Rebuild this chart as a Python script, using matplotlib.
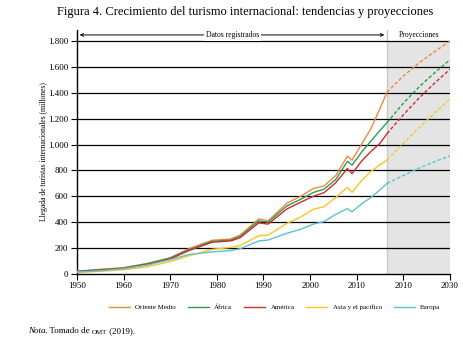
import numpy as np
import matplotlib.pyplot as plt

plt.rcParams['font.family'] = ['Liberation Serif', 'DejaVu Serif']

# posiciones en el eje (años); el tramo de proyección va comprimido al final
anios = [1950, 1955, 1960, 1965, 1970, 1974, 1979, 1983, 1985, 1989, 1991,
         1995, 1998, 2000.7, 2003, 2005.5, 2008, 2009, 2011, 2013, 2015, 2016.5]
anios_proy = [2016.5, 2020, 2023.5, 2027, 2030]

series = ['Oriente Medio', 'África', 'América', 'Asia y el pacífico', 'Europa']
colores = ['#EE8A3C', '#2E9A5C', '#D22B2B', '#F9C623', '#5BC3CE']

oriente = [22, 35, 48, 80, 125, 195, 260, 270, 300, 425, 410,
           546, 600, 660, 680, 760, 910, 880, 1000, 1120, 1280, 1405]
africa = [20, 33, 46, 78, 122, 188, 252, 262, 290, 410, 400,
          525, 577, 630, 655, 730, 870, 840, 940, 1025, 1110, 1170]
america = [18, 30, 42, 72, 115, 180, 245, 255, 280, 395, 385,
           502, 555, 600, 628, 705, 815, 775, 870, 945, 1010, 1085]
asia = [12, 20, 32, 55, 95, 140, 190, 205, 220, 295, 300,
        390, 440, 500, 520, 590, 670, 630, 720, 790, 845, 880]
europa = [15, 25, 40, 68, 110, 150, 170, 180, 195, 255, 262,
          314, 345, 385, 405, 460, 505, 480, 540, 590, 650, 700]

oriente_p = [1405, 1530, 1635, 1725, 1800]
africa_p = [1170, 1320, 1450, 1565, 1655]
america_p = [1085, 1230, 1365, 1485, 1582]
asia_p = [880, 1010, 1135, 1255, 1352]
europa_p = [700, 760, 820, 872, 912]

registrados = [oriente, africa, america, asia, europa]
proyectados = [oriente_p, africa_p, america_p, asia_p, europa_p]

ticks_x = [1950, 1960, 1970, 1980, 1990, 2000, 2010, 2020, 2030]
etiquetas_x = ['1950', '1960', '1970', '1980', '1990', '2000', '2010', '2010', '2030']
ticks_y = np.arange(0, 1801, 200)

fig = plt.figure(figsize=(4.63, 3.45), dpi=100)
ax = fig.add_axes([0.166, 0.206, 0.806, 0.707])

# zona sombreada de proyecciones
ax.fill_between([2016.5, 2030], 0, 1800, color='#E4E4E4', lw=0, zorder=0)
ax.axvline(2016.5, color='#C8C8C8', lw=1.0, zorder=1)

for y in ticks_y[1:]:
    ax.axhline(y, color='black', lw=0.9, zorder=2)

for nombre, col, v, vp in zip(series, colores, registrados, proyectados):
    ax.plot(anios, v, color=col, lw=1.0, label=nombre, zorder=3)
    ax.plot(anios_proy, vp, color=col, lw=1.0, ls=(0, (2.5, 1.5)), zorder=3)

ax.set_xlim(1950, 2030)
ax.set_ylim(0, 1885)
ax.set_xticks(ticks_x)
ax.set_xticklabels(etiquetas_x)
ax.set_yticks(ticks_y)
ax.set_yticklabels([f'{v:,}'.replace(',', '.') for v in ticks_y])
ax.tick_params(labelsize=6.5, length=4, width=0.8, pad=2)
for s in ['top', 'right']:
    ax.spines[s].set_visible(False)
ax.spines['left'].set_linewidth(1.0)
ax.spines['bottom'].set_linewidth(1.0)

ax.set_ylabel('Llegada de turistas internacionales (millones)', fontsize=5.5, labelpad=0)

# flecha de datos registrados
ax.annotate('', xy=(1950.6, 1847), xytext=(2015.9, 1847),
            arrowprops=dict(arrowstyle='<->', lw=0.7, color='black',
                            shrinkA=0, shrinkB=0, mutation_scale=5))
ax.text(1983.3, 1847, 'Datos registrados', fontsize=5.5, ha='center', va='center',
        bbox=dict(facecolor='white', edgecolor='none', pad=1.5), zorder=4)
ax.text(2023.3, 1850, 'Proyecciones', fontsize=5.5, ha='center', va='center')

ax.legend(loc='upper center', bbox_to_anchor=(0.53, -0.1), ncol=5, frameon=False,
          fontsize=5, handlelength=3.0, columnspacing=1.7, handletextpad=0.8)

fig.suptitle('Figura 4. Crecimiento del turismo internacional: tendencias y proyecciones',
             x=0.53, y=0.982, fontsize=9)

nota = fig.text(0.06, 0.035, 'Nota', fontsize=6.5, style='italic')
t2 = ax.annotate('. Tomado de ', xy=(1, 0), xycoords=nota, va='bottom', fontsize=6.5)
t3 = ax.annotate('OMT', xy=(1, 0), xycoords=t2, va='bottom', fontsize=5)
ax.annotate(' (2019).', xy=(1, 0), xycoords=t3, va='bottom', fontsize=6.5)

fig.savefig('out.png', dpi=100)
